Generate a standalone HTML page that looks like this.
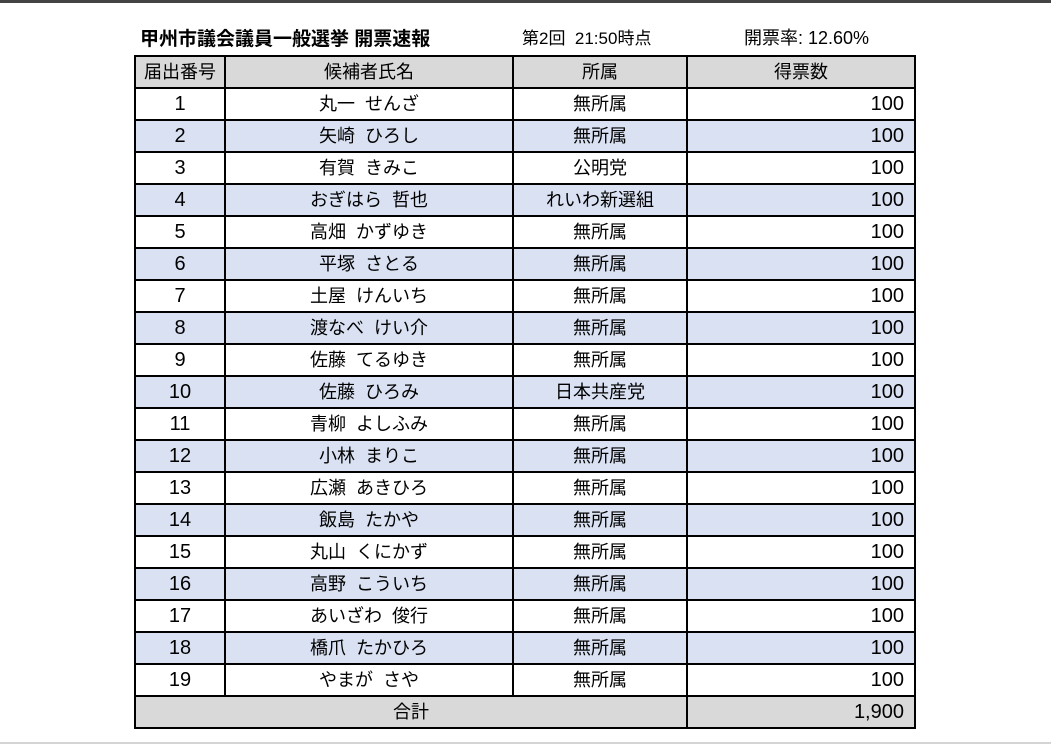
<!DOCTYPE html>
<html><head><meta charset="utf-8"><style>
body{margin:0;width:1051px;height:745px;background:#fff;position:relative;overflow:hidden;font-family:"Liberation Sans","Noto Sans CJK JP",sans-serif;}
.top{position:absolute;left:0;top:0;width:1051px;height:3px;background:#444;}
.bot{position:absolute;left:0;top:742px;width:1051px;height:2px;background:#d4d4d4;}
.t{position:absolute;top:24px;font-size:18px;color:#000;white-space:nowrap;}
table{position:absolute;left:134px;top:55px;border-collapse:collapse;font-size:18px;}
td{border:2px solid #000;height:30px;padding:0;text-align:center;line-height:30px;}
tr.h td{background:#d9d9d9;}
tr.a td{background:#d9e1f2;}
td.n{text-align:right;padding-right:10px;font-size:20px;}
td.i{font-size:20px;}
</style></head><body>
<div class="top"></div><div class="bot"></div>
<div class="t" style="left:140px;font-weight:bold;font-size:19px;">甲州市議会議員一般選挙 開票速報</div>
<div class="t" style="left:522px;font-size:17px;">第2回&nbsp;&nbsp;21:50時点</div>
<div class="t" style="left:744px;font-size:18px;">開票率: 12.60%</div>
<table>
<colgroup><col style="width:90px"><col style="width:288px"><col style="width:174px"><col style="width:228px"></colgroup>
<tr class="h"><td>届出番号</td><td>候補者氏名</td><td>所属</td><td>得票数</td></tr>
<tr><td class="i">1</td><td>丸一&nbsp;&nbsp;せんざ</td><td>無所属</td><td class="n">100</td></tr>
<tr class="a"><td class="i">2</td><td>矢崎&nbsp;&nbsp;ひろし</td><td>無所属</td><td class="n">100</td></tr>
<tr><td class="i">3</td><td>有賀&nbsp;&nbsp;きみこ</td><td>公明党</td><td class="n">100</td></tr>
<tr class="a"><td class="i">4</td><td>おぎはら&nbsp;&nbsp;哲也</td><td>れいわ新選組</td><td class="n">100</td></tr>
<tr><td class="i">5</td><td>高畑&nbsp;&nbsp;かずゆき</td><td>無所属</td><td class="n">100</td></tr>
<tr class="a"><td class="i">6</td><td>平塚&nbsp;&nbsp;さとる</td><td>無所属</td><td class="n">100</td></tr>
<tr><td class="i">7</td><td>土屋&nbsp;&nbsp;けんいち</td><td>無所属</td><td class="n">100</td></tr>
<tr class="a"><td class="i">8</td><td>渡なべ&nbsp;&nbsp;けい介</td><td>無所属</td><td class="n">100</td></tr>
<tr><td class="i">9</td><td>佐藤&nbsp;&nbsp;てるゆき</td><td>無所属</td><td class="n">100</td></tr>
<tr class="a"><td class="i">10</td><td>佐藤&nbsp;&nbsp;ひろみ</td><td>日本共産党</td><td class="n">100</td></tr>
<tr><td class="i">11</td><td>青柳&nbsp;&nbsp;よしふみ</td><td>無所属</td><td class="n">100</td></tr>
<tr class="a"><td class="i">12</td><td>小林&nbsp;&nbsp;まりこ</td><td>無所属</td><td class="n">100</td></tr>
<tr><td class="i">13</td><td>広瀬&nbsp;&nbsp;あきひろ</td><td>無所属</td><td class="n">100</td></tr>
<tr class="a"><td class="i">14</td><td>飯島&nbsp;&nbsp;たかや</td><td>無所属</td><td class="n">100</td></tr>
<tr><td class="i">15</td><td>丸山&nbsp;&nbsp;くにかず</td><td>無所属</td><td class="n">100</td></tr>
<tr class="a"><td class="i">16</td><td>高野&nbsp;&nbsp;こういち</td><td>無所属</td><td class="n">100</td></tr>
<tr><td class="i">17</td><td>あいざわ&nbsp;&nbsp;俊行</td><td>無所属</td><td class="n">100</td></tr>
<tr class="a"><td class="i">18</td><td>橋爪&nbsp;&nbsp;たかひろ</td><td>無所属</td><td class="n">100</td></tr>
<tr><td class="i">19</td><td>やまが&nbsp;&nbsp;さや</td><td>無所属</td><td class="n">100</td></tr>
<tr class="h"><td colspan="3">合計</td><td class="n">1,900</td></tr>
</table>
</body></html>
